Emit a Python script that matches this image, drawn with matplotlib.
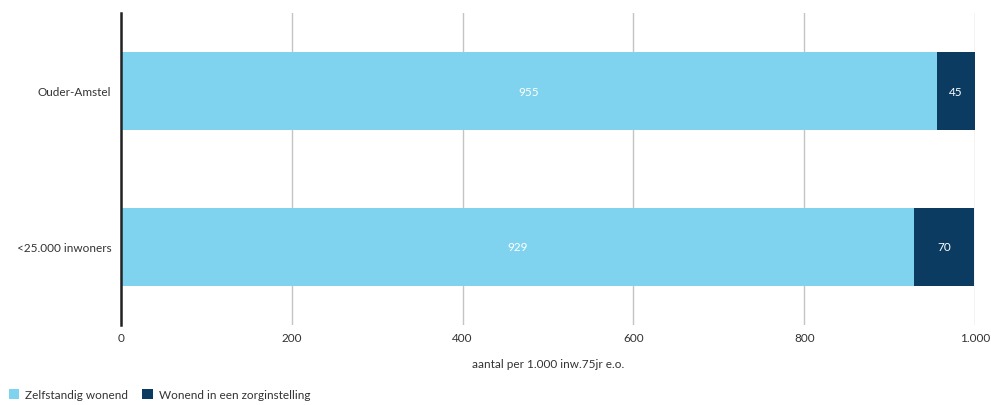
import matplotlib
matplotlib.use("Agg")
import matplotlib.pyplot as plt
from matplotlib.patches import Patch
from matplotlib.ticker import FuncFormatter

categories = ["Ouder-Amstel", "<25.000 inwoners"]
zelfstandig = [955, 929]
zorginstelling = [45, 70]
series_names = ["Zelfstandig wonend", "Wonend in een zorginstelling"]
xticks = [0, 200, 400, 600, 800, 1000]
xlabel = "aantal per 1.000 inw.75jr e.o."

light = "#7fd3ee"
dark = "#0b3b60"
text_col = "#333333"

plt.rcParams["font.family"] = ["Lato", "DejaVu Sans"]

fig = plt.figure(figsize=(9.91, 4.06), dpi=100)
ax = fig.add_axes([121 / 991, 1 - 326 / 406, 854 / 991, 312 / 406])

y = list(range(len(categories)))
h = 0.5
ax.barh(y, zelfstandig, height=h, color=light, zorder=3)
ax.barh(y, zorginstelling, left=zelfstandig, height=h, color=dark, zorder=3)

for i in y:
    ax.text(zelfstandig[i] / 2, i, f"{zelfstandig[i]}", ha="center", va="center",
            color="white", fontsize=8.5, zorder=4)
    ax.text(zelfstandig[i] + zorginstelling[i] / 2, i, f"{zorginstelling[i]}",
            ha="center", va="center", color="white", fontsize=8.5, zorder=4)

ax.set_xlim(0, 1000)
ax.set_ylim(len(categories) - 0.5, -0.5)
ax.set_yticks(y)
ax.set_yticklabels(categories)
ax.set_xticks(xticks)
ax.xaxis.set_major_formatter(FuncFormatter(lambda v, p: f"{int(v):,}".replace(",", ".")))

ax.grid(axis="x", color="#c4c4c4", linewidth=1.0, zorder=0)
ax.grid(axis="y", visible=False)
for s in ["top", "right", "bottom"]:
    ax.spines[s].set_visible(False)
ax.spines["left"].set_color("#222222")
ax.spines["left"].set_linewidth(1.8)
ax.spines["left"].set_zorder(5)

ax.tick_params(axis="x", length=0, pad=5, labelsize=8.5, labelcolor=text_col)
ax.tick_params(axis="y", length=0, pad=7, labelsize=8.5, labelcolor=text_col)
ax.set_xlabel(xlabel, fontsize=8.5, color=text_col, labelpad=11)

handles = [Patch(facecolor=light, label=series_names[0]),
           Patch(facecolor=dark, label=series_names[1])]
fig.legend(handles=handles, loc="lower left", bbox_to_anchor=(-2 / 991, -0.014),
           ncol=2, frameon=False, fontsize=8.5, handlelength=0.9, handleheight=0.9,
           handletextpad=0.5, columnspacing=1.2, labelcolor=text_col)

fig.savefig("out.png", dpi=100)
